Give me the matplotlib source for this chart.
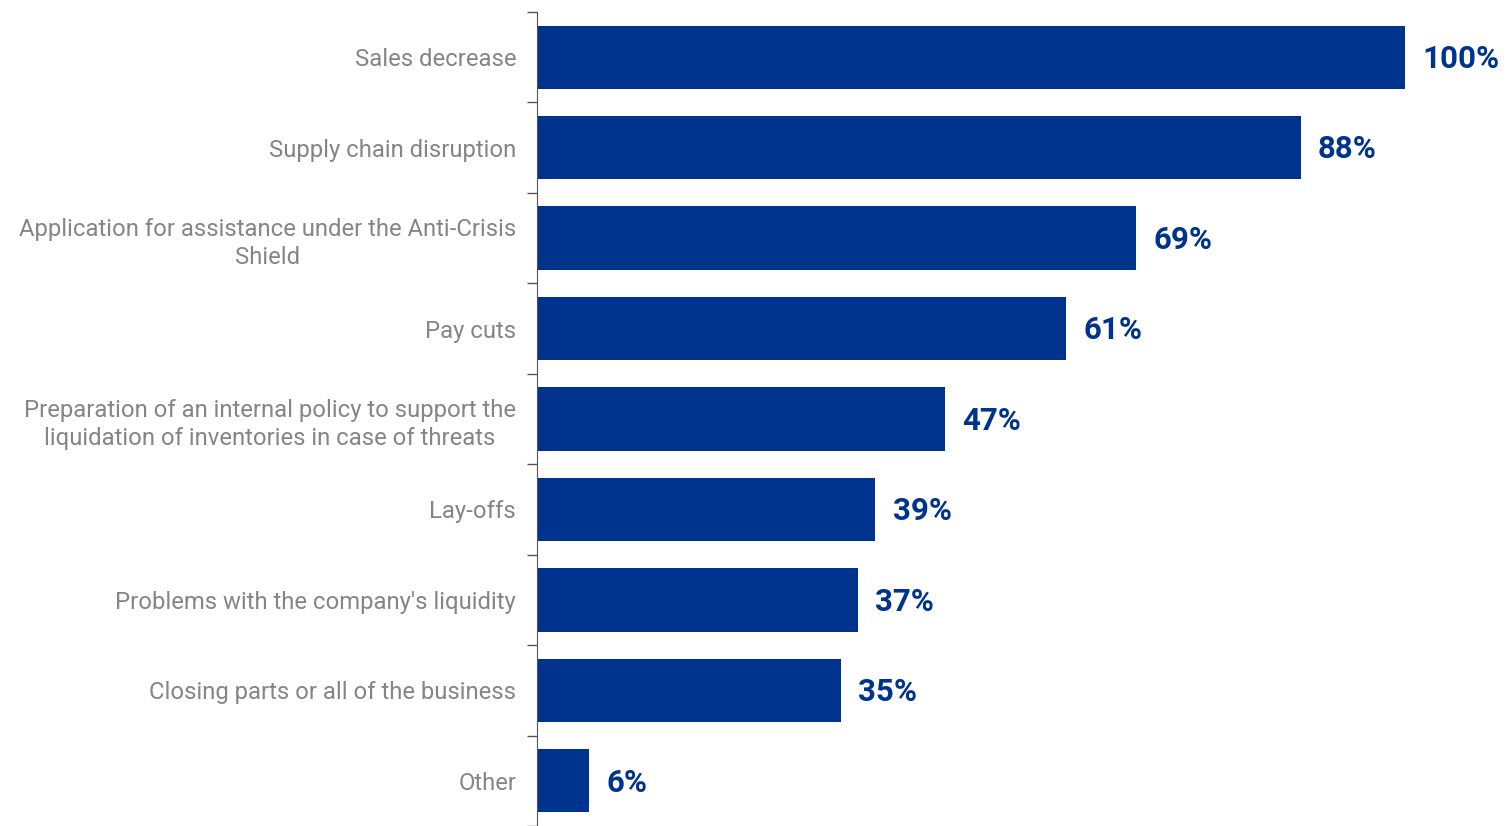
import matplotlib
matplotlib.use("Agg")
import matplotlib.pyplot as plt
import numpy as np

# survey answers, top to bottom
categories = [
    "Sales decrease",
    "Supply chain disruption",
    "Application for assistance under the Anti-Crisis\nShield",
    "Pay cuts",
    "Preparation of an internal policy to support the\nliquidation of inventories in case of threats",
    "Lay-offs",
    "Problems with the company's liquidity",
    "Closing parts or all of the business",
    "Other",
]
values = [100, 88, 69, 61, 47, 39, 37, 35, 6]

blue = "#00338D"
grey = "#858585"

plt.rcParams["font.family"] = ["Roboto", "DejaVu Sans"]

fig = plt.figure(figsize=(15.09, 8.26), dpi=100)
ax = fig.add_axes([537 / 1509, 0, 1 - 537 / 1509, 1 - 12 / 826])

y = np.arange(len(categories))
ax.barh(y, values, height=0.70, color=blue)
ax.set_ylim(len(categories) - 0.5, -0.5)
ax.set_xlim(0, 112)

for yi, v in zip(y, values):
    ax.text(v + 2, yi + 0.02, f"{v}%", va="center", ha="left", color=blue,
            fontsize=22.5, fontweight="bold")

ax.set_yticks(y)
ax.set_yticklabels(categories, fontsize=17.2, color=grey, linespacing=1.3)
for t in ax.get_yticklabels():
    t.set_multialignment("center")
ax.tick_params(axis="y", which="major", length=0, pad=15)
ax.set_yticks(np.arange(-0.5, len(categories), 1), minor=True)
ax.tick_params(axis="y", which="minor", length=7, color="#555555", width=1)
ax.set_xticks([])
for side in ["top", "right", "bottom"]:
    ax.spines[side].set_visible(False)
ax.spines["left"].set_color("#555555")

fig.savefig("out.png", dpi=100)
